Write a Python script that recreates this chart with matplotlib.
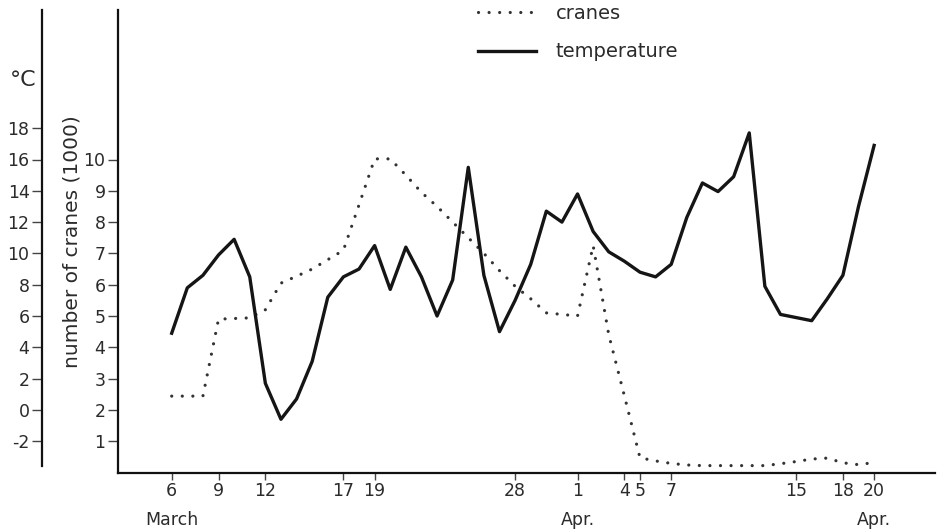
import numpy as np
import matplotlib
matplotlib.use("Agg")
import matplotlib.pyplot as plt

# ---- data (day 0 = 6 March) ----
days = np.arange(46)
cranes = [2.44, 2.44, 2.44, 4.9, 4.92, 4.94, 5.2, 6.05, 6.27, 6.5,
          6.8, 7.1, 8.55, 10.02, 10.02, 9.5, 8.95, 8.5, 8.0, 7.5,
          7.0, 6.45, 5.95, 5.55, 5.1, 5.05, 5.0, 7.25, 4.4, 2.45,
          0.47, 0.37, 0.29, 0.24, 0.22, 0.22, 0.22, 0.22, 0.22, 0.28,
          0.35, 0.43, 0.46, 0.31, 0.25, 0.32]
temperature = [4.9, 7.8, 8.6, 9.9, 10.9, 8.5, 1.7, -0.6, 0.7, 3.1,
               7.2, 8.5, 9.0, 10.5, 7.7, 10.4, 8.5, 6.0, 8.3, 15.5,
               8.6, 5.0, 7.0, 9.3, 12.7, 12.0, 13.8, 11.4, 10.1, 9.5,
               8.8, 8.5, 9.3, 12.3, 14.5, 13.95, 14.9, 17.7, 7.9, 6.1,
               5.9, 5.7, 7.1, 8.6, 13.0, 16.9]

tick_days = [0, 3, 6, 11, 13, 22, 26, 29, 30, 32, 40, 43, 45]
tick_nums = ["6", "9", "12", "17", "19", "28", "1", "4", "5", "7", "15", "18", "20"]
tick_months = ["March", "", "", "", "", "", "Apr.", "", "", "", "", "", "Apr."]
crane_ticks = [1, 2, 3, 4, 5, 6, 7, 8, 9, 10]
temp_ticks = [-2, 0, 2, 4, 6, 8, 10, 12, 14, 16, 18]

TXT = "#2b2b2b"
plt.rcParams["font.family"] = ["DejaVu Sans"]

fig = plt.figure(figsize=(9.41, 5.29), dpi=100)
ax = fig.add_axes([118 / 941, (529 - 472.5) / 529, 817 / 941, 462.5 / 529])
ax2 = ax.twinx()

c_top = 462.5 / 31.3
ax.set_ylim(0, c_top)
ax2.set_ylim(2 * (0 - 2), 2 * (c_top - 2))
ax.set_xlim(-3.44, 48.9)

l1, = ax.plot(days, cranes, color="#333333", lw=2.3,
              linestyle=(0, (0.01, 3.3)), dash_capstyle="round", label="cranes")
l2, = ax2.plot(days, temperature, color="#151515", lw=2.4, label="temperature")

# spines
for s in ["top", "right"]:
    ax.spines[s].set_visible(False)
for s in ["top", "right", "bottom"]:
    ax2.spines[s].set_visible(False)
for sp in [ax.spines["left"], ax.spines["bottom"], ax2.spines["left"]]:
    sp.set_linewidth(1.6)
    sp.set_color("#111111")
ax2.spines["left"].set_visible(True)
ax2.spines["left"].set_position(("axes", (42 - 118) / 817))
ax2.spines["left"].set_bounds(-3.6, 2 * (c_top - 2))
ax2.yaxis.set_ticks_position("left")
ax2.yaxis.set_label_position("left")

ax.set_yticks(crane_ticks)
ax.set_yticklabels([str(v) for v in crane_ticks])
ax2.set_yticks(temp_ticks)
ax2.set_yticklabels([("-" + str(-v)) if v < 0 else str(v) for v in temp_ticks])

ax.set_xticks(tick_days)
ax.set_xticklabels([n + ("\n" + m if m else "") for n, m in zip(tick_nums, tick_months)])
for lbl in ax.get_xticklabels():
    lbl.set_linespacing(1.85)

ax.tick_params(axis="y", direction="out", length=7, width=1, pad=2,
               labelsize=12.5, labelcolor=TXT, color="#444444")
ax2.tick_params(axis="y", direction="out", length=7, width=1, pad=2,
                labelsize=12.5, labelcolor=TXT, color="#444444")
ax.tick_params(axis="x", direction="out", length=5, width=1, pad=1.5,
               labelsize=12.5, labelcolor=TXT, color="#444444")

ax.set_ylabel("number of cranes (1000)", fontsize=14.5, color=TXT)
ax.yaxis.set_label_coords((82 - 118) / 817, 0.5)
ax2.set_ylabel("°C", fontsize=16, color=TXT, rotation=0, ha="center", va="center")
ax2.yaxis.set_label_coords((23 - 118) / 817, (472.5 - 80) / 462.5)

fig.legend([l1, l2], ["cranes", "temperature"], loc="upper left",
           bbox_to_anchor=(478 / 941, 1 - 4 / 529), frameon=False,
           handlelength=3.0, handletextpad=1.0, labelspacing=1.0,
           borderpad=0, borderaxespad=0, fontsize=14, labelcolor=TXT)

fig.savefig("out.png", dpi=100)
